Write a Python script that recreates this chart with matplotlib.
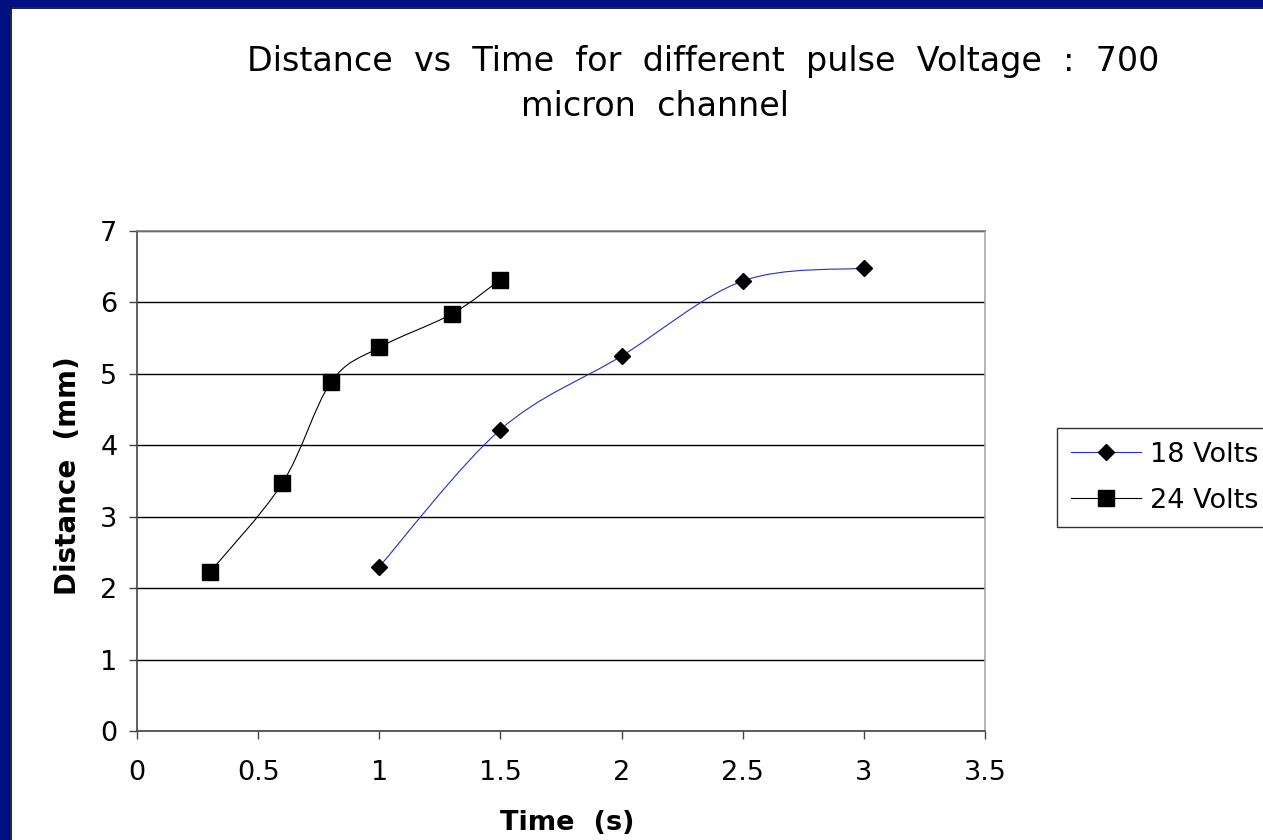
import numpy as np
import matplotlib.pyplot as plt
from matplotlib.path import Path
from matplotlib.patches import PathPatch, Rectangle
from matplotlib.lines import Line2D

# data
t18 = [1.0, 1.5, 2.0, 2.5, 3.0]
d18 = [2.30, 4.22, 5.25, 6.30, 6.48]
t24 = [0.3, 0.6, 0.8, 1.0, 1.3, 1.5]
d24 = [2.22, 3.47, 4.88, 5.37, 5.84, 6.32]
series_names = ['18 Volts', '24 Volts']
xticks = [0, 0.5, 1, 1.5, 2, 2.5, 3, 3.5]
yticks = [0, 1, 2, 3, 4, 5, 6, 7]

NAVY = '#001080'
BLUE = '#2030c0'


def smooth_path(xs, ys):
    # excel-like smoothed line: bezier segments with catmull-rom control points
    p = np.column_stack([xs, ys]).astype(float)
    n = len(p)
    verts = [p[0]]
    codes = [Path.MOVETO]
    for i in range(n - 1):
        p0 = p[i - 1] if i > 0 else p[i]
        p1 = p[i]
        p2 = p[i + 1]
        p3 = p[i + 2] if i + 2 < n else p[i + 1]
        verts += [p1 + (p2 - p0) / 6, p2 - (p3 - p1) / 6, p2]
        codes += [Path.CURVE4] * 3
    return Path(verts, codes)


fig = plt.figure(figsize=(12.63, 8.4), dpi=100)
fig.patch.set_facecolor('white')

# slide frame
fig.patches.append(Rectangle((0, 0), 9.5 / 1263, 1, transform=fig.transFigure,
                             facecolor=NAVY, edgecolor='none', zorder=0))
fig.patches.append(Rectangle((0, 1 - 6.5 / 840), 1, 6.5 / 840, transform=fig.transFigure,
                             facecolor=NAVY, edgecolor='none', zorder=0))
fig.lines.append(Line2D([11 / 1263, 11 / 1263], [0, 1 - 8 / 840], transform=fig.transFigure,
                        color='black', lw=1.2))
fig.lines.append(Line2D([11 / 1263, 1], [1 - 8 / 840, 1 - 8 / 840], transform=fig.transFigure,
                        color='black', lw=1.2))

ax = fig.add_axes([137 / 1263, 109 / 840, 848 / 1263, 500 / 840])

ax.add_patch(PathPatch(smooth_path(t18, d18), facecolor='none', edgecolor=BLUE, lw=0.8))
ax.add_patch(PathPatch(smooth_path(t24, d24), facecolor='none', edgecolor='black', lw=0.8))
ax.plot(t18, d18, ls='none', marker='D', ms=8.5, color='black', zorder=3)
ax.plot(t24, d24, ls='none', marker='s', ms=11, color='black', zorder=3)

ax.set_xlim(0, 3.5)
ax.set_ylim(0, 7)
ax.set_xticks(xticks)
ax.set_xticklabels(['0', '0.5', '1', '1.5', '2', '2.5', '3', '3.5'])
ax.set_yticks(yticks)
ax.tick_params(labelsize=19.5, length=6, width=1, color='#444444', pad=15)
ax.tick_params(axis='y', pad=8)
ax.yaxis.grid(True, color='black', lw=1)
ax.set_axisbelow(True)
ax.spines['left'].set_color('#444444')
ax.spines['bottom'].set_color('#444444')
ax.spines['top'].set_color('#808080')
ax.spines['right'].set_color('#a8a8a8')
for s in ax.spines.values():
    s.set_linewidth(1.2)

fig.text(703 / 1263, 1 - 62 / 840, 'Distance  vs  Time  for  different  pulse  Voltage  :  700',
         ha='center', va='center', fontsize=24)
fig.text(655 / 1263, 1 - 107 / 840, 'micron  channel', ha='center', va='center', fontsize=24)
fig.text(567 / 1263, 1 - 823 / 840, 'Time  (s)', ha='center', va='center',
         fontsize=19.5, fontweight='bold')
fig.text(68 / 1263, 1 - 476 / 840, 'Distance  (mm)', ha='center', va='center',
         rotation=90, fontsize=20, fontweight='bold')

handles = [Line2D([], [], color=BLUE, lw=0.8, marker='D', ms=8.5, mfc='black', mec='black'),
           Line2D([], [], color='black', lw=0.8, marker='s', ms=11, mfc='black', mec='black')]
leg = fig.legend(handles, series_names, loc='upper left',
                 bbox_to_anchor=(1057 / 1263, 1 - 428 / 840), bbox_transform=fig.transFigure,
                 fontsize=19.5, frameon=True, fancybox=False, edgecolor='black',
                 borderpad=0.5, handlelength=2.6, handletextpad=0.35, labelspacing=0.75,
                 borderaxespad=0)
leg.get_frame().set_linewidth(1)

fig.savefig('out.png', dpi=100)
